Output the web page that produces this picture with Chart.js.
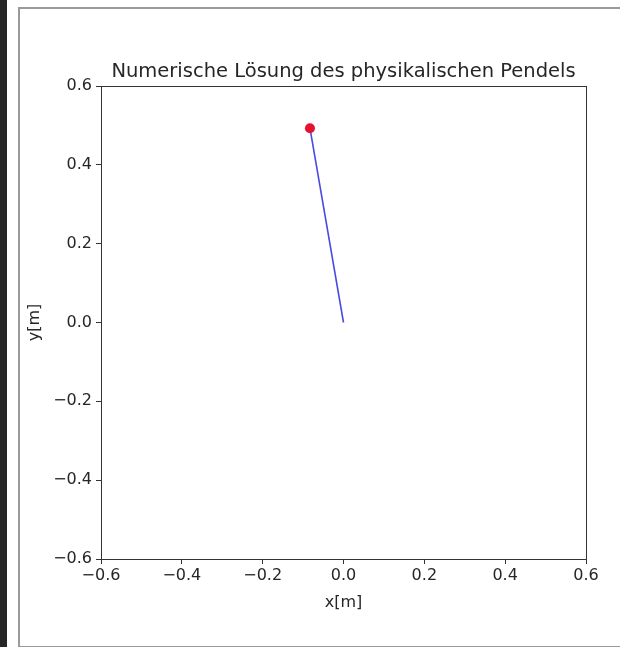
<!DOCTYPE html>
<html>
<head>
<meta charset="utf-8">
<script src="https://cdn.jsdelivr.net/npm/chart.js@4/dist/chart.umd.min.js"></script>
<style>
  html, body { margin: 0; padding: 0; background: #fff; width: 620px; height: 647px; overflow: hidden; }
  #strip { position: absolute; left: 0; top: 0; width: 7px; height: 647px; background: #262626; }
  #frame { position: absolute; left: 18px; top: 7px; width: 620px; height: 637px;
           border-left: 2px solid #9a9a9a; border-top: 2px solid #9a9a9a; border-bottom: 2px solid #9a9a9a; }
  #wrap { position: absolute; left: 0; top: 0; width: 620px; height: 647px; }
</style>
</head>
<body>
<div id="strip"></div>
<div id="frame"></div>
<div id="wrap"><canvas id="c" width="620" height="647"></canvas></div>
<script>
// ---- data ----
const chartTitle = "Numerische Lösung des physikalischen Pendels";
const xLabel = "x[m]";
const yLabel = "y[m]";
const rodX = [0, -0.083];      // pivot -> bob
const rodY = [0, 0.493];
const bobX = [-0.083];
const bobY = [0.493];
const xTickValues = [-0.6, -0.4, -0.2, 0.0, 0.2, 0.4, 0.6];
const yTickValues = [-0.6, -0.4, -0.2, 0.0, 0.2, 0.4, 0.6];
const axisMin = -0.6, axisMax = 0.6;

const fmt = v => { const s = Math.abs(v).toFixed(1); return (v < -1e-9 ? "\u2212" : "") + s; };
const FONT = "'DejaVu Sans', sans-serif";
const TXT = "#262626";

const boxPlugin = {
  id: 'box',
  afterDatasetsDraw(chart) {
    const a = chart.chartArea, ctx = chart.ctx;
    ctx.save();
    ctx.strokeStyle = '#333';
    ctx.lineWidth = 1;
    ctx.strokeRect(Math.round(a.left) + 0.5, Math.round(a.top) + 0.5,
                   Math.round(a.right - a.left), Math.round(a.bottom - a.top));
    ctx.restore();
  }
};

new Chart(document.getElementById('c'), {
  type: 'scatter',
  data: {
    datasets: [
      {
        label: 'rod',
        data: rodX.map((x, i) => ({ x: x, y: rodY[i] })),
        showLine: true,
        borderColor: '#4a4ae0',
        borderWidth: 1.6,
        pointRadius: 0,
        fill: false,
        order: 2
      },
      {
        label: 'bob',
        data: bobX.map((x, i) => ({ x: x, y: bobY[i] })),
        backgroundColor: '#e5112f',
        borderColor: '#e5112f',
        pointRadius: 5,
        borderWidth: 0,
        order: 1
      }
    ]
  },
  options: {
    responsive: false,
    animation: false,
    devicePixelRatio: 1,
    layout: { padding: { left: 0, right: 34, top: 60, bottom: 0 } },
    plugins: {
      legend: { display: false },
      tooltip: { enabled: false },
      title: {
        display: true,
        text: chartTitle,
        fullSize: false,
        color: TXT,
        font: { family: FONT, size: 19.5, weight: 'normal', lineHeight: 1.2 },
        padding: { top: 0, bottom: 2.6 }
      }
    },
    scales: {
      x: {
        type: 'linear',
        position: 'bottom',
        min: axisMin, max: axisMax,
        afterBuildTicks: s => { s.ticks = xTickValues.map(v => ({ value: v })); },
        afterFit: s => { s.height = 88; },
        ticks: {
          color: TXT,
          font: { family: FONT, size: 16 },
          padding: 2,
          maxRotation: 0,
          autoSkip: false,
          callback: v => fmt(v)
        },
        grid: { drawOnChartArea: false, drawTicks: true, tickLength: 5, tickColor: '#333' },
        border: { display: true, color: '#333', width: 1 },
        title: {
          display: true, text: xLabel, color: TXT,
          font: { family: FONT, size: 16, lineHeight: 1.2 },
          padding: { top: 0, bottom: 35 }
        }
      },
      y: {
        type: 'linear',
        position: 'left',
        min: axisMin, max: axisMax,
        afterBuildTicks: s => { s.ticks = yTickValues.map(v => ({ value: v })); },
        afterFit: s => { s.width = 101; },
        ticks: {
          color: TXT,
          font: { family: FONT, size: 16 },
          padding: 4,
          autoSkip: false,
          callback: v => fmt(v)
        },
        grid: { drawOnChartArea: false, drawTicks: true, tickLength: 5, tickColor: '#333' },
        border: { display: true, color: '#333', width: 1 },
        title: {
          display: true, text: yLabel, color: TXT,
          font: { family: FONT, size: 16, lineHeight: 1.2 },
          padding: { top: 25, bottom: 0 }
        }
      }
    }
  },
  plugins: [boxPlugin]
});
</script>
</body>
</html>
